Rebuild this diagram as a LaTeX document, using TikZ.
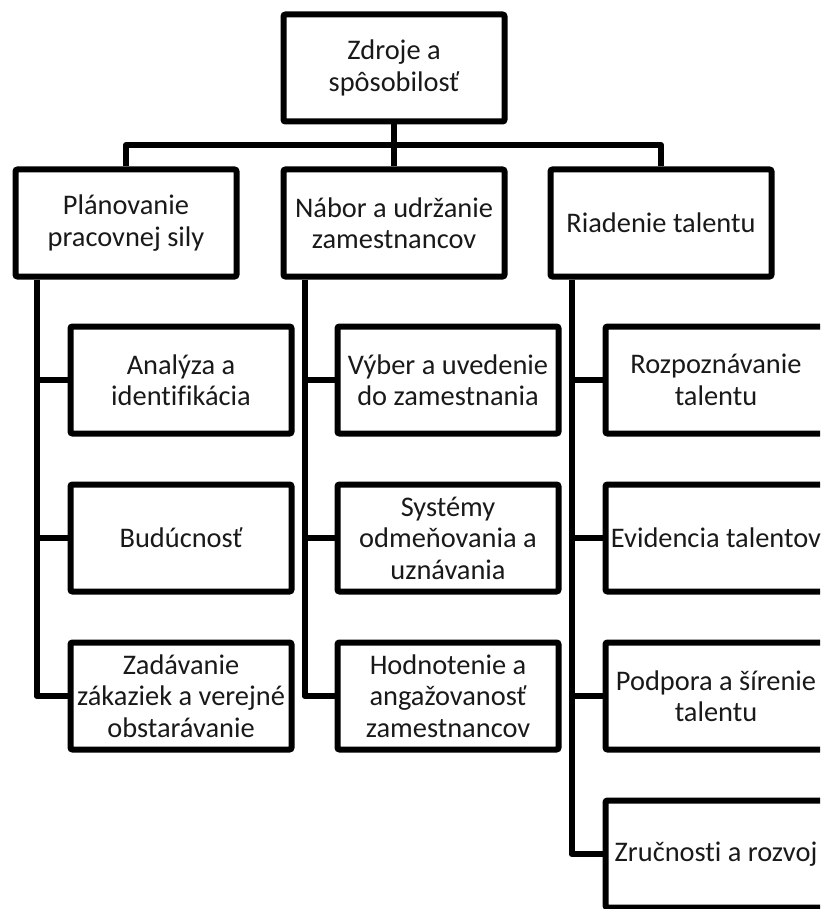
\documentclass[tikz,border=0pt]{standalone}
\usepackage{fontspec}
\setmainfont[Ligatures={NoCommon}]{Carlito}
\usetikzlibrary{positioning}

\begin{document}
\begin{tikzpicture}[x=1pt, y=-1pt,
    unitbox/.style={draw=black, text=black!90, line width=6pt, rounded corners=2pt,
        minimum width=221pt, minimum height=107pt, inner sep=1pt, align=center,
        font=\fontsize{28.4}{31.5}\selectfont},
    link/.style={line width=6pt, line join=round}]
    % Define dimensions
    \def\rowA{380}
    \def\rowstep{158}
    \def\tick{24}

    % Page frame (right and bottom boxes run past it)
    \useasboundingbox (0,0) rectangle (820,909);
    \clip (0,0) rectangle (820,909);

    % Top unit
    \node[unitbox] (zdroje) at (394,68) {Zdroje a\\spôsobilosť};

    % Main areas
    \node[unitbox] (plan)  at (126,223) {Plánovanie\\pracovnej sily};
    \node[unitbox] (nabor) at (394,223) {Nábor a udržanie\\zamestnancov};
    \node[unitbox] (riad)  at (661,223) {Riadenie talentu};

    % Planning column
    \node[unitbox] (analyza) at (181,\rowA) {Analýza a\\identifikácia};
    \node[unitbox] (buduc)   at (181,\rowA+\rowstep) {Budúcnosť};
    \node[unitbox] (zadav)   at (181,\rowA+2*\rowstep) {Zadávanie\\zákaziek a verejné\\obstarávanie};

    % Recruitment column
    \node[unitbox] (vyber)   at (448,\rowA) {Výber a uvedenie\\do zamestnania};
    \node[unitbox] (odmena)  at (448,\rowA+\rowstep) {Systémy\\odmeňovania a\\uznávania};
    \node[unitbox] (hodnot)  at (448,\rowA+2*\rowstep) {Hodnotenie a\\angažovanosť\\zamestnancov};

    % Talent column
    \node[unitbox] (rozpoz)  at (716,\rowA) {Rozpoznávanie\\talentu};
    \node[unitbox] (evid)    at (716,\rowA+\rowstep) {Evidencia talentov};
    \node[unitbox] (podpora) at (716,\rowA+2*\rowstep) {Podpora a šírenie\\talentu};
    \node[unitbox] (zrucn)   at (716,\rowA+3*\rowstep) {Zručnosti a rozvoj};

    % Bus from the top unit
    \coordinate (bus) at (394,145);
    \draw[link] (zdroje.south) -- (nabor.north);
    \draw[link] (plan.north) |- (bus) -| (riad.north);

    % Column links
    \foreach \c in {analyza, buduc, zadav}
        \draw[link] ([xshift=\tick pt]plan.south west) |- (\c.west);
    \foreach \c in {vyber, odmena, hodnot}
        \draw[link] ([xshift=\tick pt]nabor.south west) |- (\c.west);
    \foreach \c in {rozpoz, evid, podpora, zrucn}
        \draw[link] ([xshift=\tick pt]riad.south west) |- (\c.west);

\end{tikzpicture}
\end{document}
